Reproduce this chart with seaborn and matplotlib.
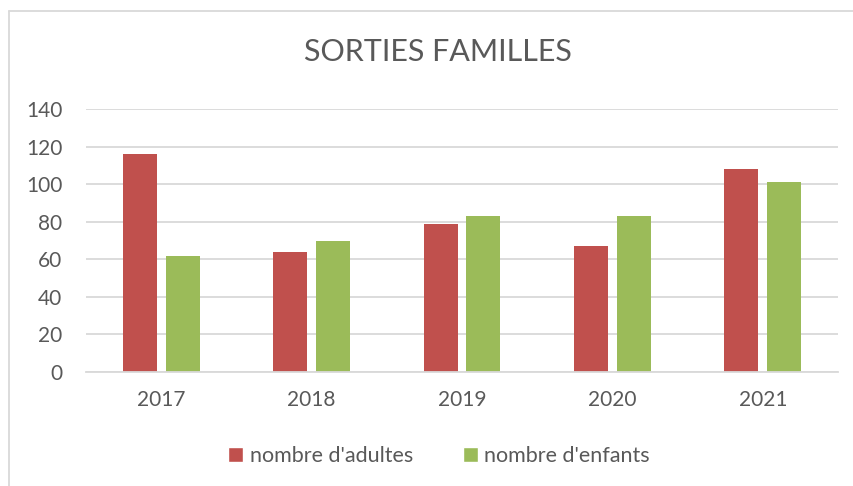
import pandas as pd
import numpy as np
import matplotlib
matplotlib.use("Agg")
import matplotlib.pyplot as plt
import seaborn as sns
from matplotlib.lines import Line2D
from matplotlib.patches import Patch

# Data
annees = ["2017", "2018", "2019", "2020", "2021"]
adultes = [116, 64, 79, 67, 108]
enfants = [62, 70, 83, 83, 101]
series = ["nombre d'adultes", "nombre d'enfants"]

df = pd.DataFrame({
    "annee": annees * 2,
    "valeur": adultes + enfants,
    "serie": [series[0]] * len(annees) + [series[1]] * len(annees),
})

sns.set_theme(style="white")
plt.rcParams["font.family"] = ["Lato", "DejaVu Sans"]

red = "#C0504D"
green = "#9BBB59"
txt = "#595959"
grid = "#D9D9D9"

fig = plt.figure(figsize=(8.54, 4.86), dpi=100)
ax = fig.add_axes([86 / 854, 1 - 372 / 486, 752 / 854, (372 - 109.3) / 486])

sns.barplot(data=df, x="annee", y="valeur", hue="serie", palette=[red, green],
            width=0.569, gap=0.206, linewidth=0, saturation=1, ax=ax, legend=False)

ax.set_ylim(0, 140)
ax.set_yticks(np.arange(0, 141, 20))
ax.yaxis.grid(True, color=grid, linewidth=1.3)
ax.set_axisbelow(True)
ax.set_xlabel("")
ax.set_ylabel("")
for s in ["top", "right", "left"]:
    ax.spines[s].set_visible(False)
ax.spines["bottom"].set_color(grid)
ax.spines["bottom"].set_linewidth(1.3)
ax.tick_params(axis="both", length=0, labelsize=15, labelcolor=txt)
ax.tick_params(axis="y", pad=17)
ax.tick_params(axis="x", pad=13)

fig.text(438 / 854, 1 - 52 / 486, "SORTIES FAMILLES", ha="center", va="center",
         fontsize=22, color=txt)

handles = [Patch(facecolor=red, label=series[0]), Patch(facecolor=green, label=series[1])]
fig.legend(handles=handles, loc="center", bbox_to_anchor=(439 / 854, 1 - 456 / 486),
           ncol=2, frameon=False, fontsize=15.5, labelcolor=txt,
           handlelength=0.7, handleheight=0.7, handletextpad=0.3, columnspacing=2.3)

# chart frame
fig.add_artist(Line2D([9 / 854, 9 / 854], [0, 1 - 11 / 486], color=grid, linewidth=1.3))
fig.add_artist(Line2D([9 / 854, 1], [1 - 11 / 486, 1 - 11 / 486], color=grid, linewidth=1.3))

fig.savefig("out.png", dpi=100)
